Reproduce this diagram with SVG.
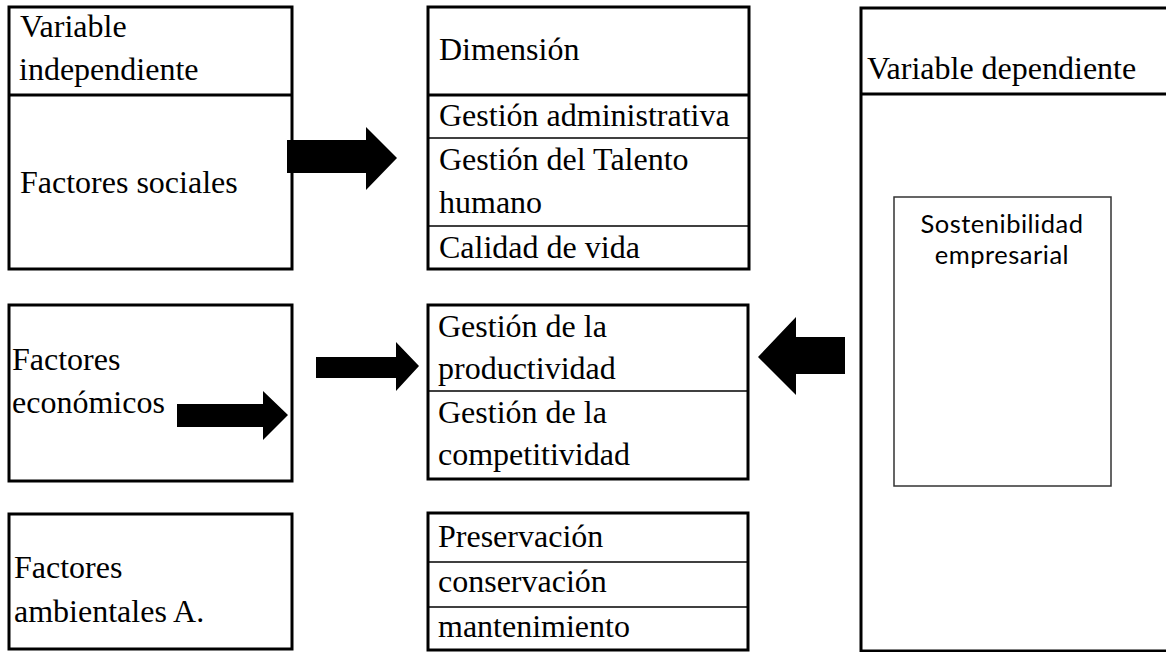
<svg xmlns="http://www.w3.org/2000/svg" width="1166" height="652" viewBox="0 0 1166 652">
<style>
.box{fill:#fff;stroke:#000;stroke-width:3}
.hd{stroke:#000;stroke-width:3}
.th{stroke:#000;stroke-width:1.3}
.t{font-family:"Liberation Serif","Times New Roman",serif;font-size:32px;fill:#000}
.s{font-family:Lato,"Open Sans",sans-serif;font-size:25.5px;letter-spacing:0.5px;fill:#000;text-anchor:middle}
.arr{fill:#000}
</style>
<rect width="1166" height="652" fill="#fff"/>
<g id="var-independiente">
<rect class="box" x="9" y="7" width="283" height="262"/>
<line class="hd" x1="9" y1="95" x2="292" y2="95"/>
<text class="t" x="20" y="37">Variable</text>
<text class="t" x="19" y="80">independiente</text>
<text class="t" x="20" y="193">Factores sociales</text>
</g>
<g id="factores-economicos">
<rect class="box" x="9" y="305" width="283" height="176"/>
<text class="t" x="12" y="370">Factores</text>
<text class="t" x="12" y="413">económicos</text>
</g>
<g id="factores-ambientales">
<rect class="box" x="9" y="514" width="283" height="135"/>
<text class="t" x="14" y="578">Factores</text>
<text class="t" x="14" y="622">ambientales A.</text>
</g>
<g id="dimension-social">
<rect class="box" x="428" y="7" width="321" height="262"/>
<line class="hd" x1="428" y1="95" x2="749" y2="95"/>
<line class="th" x1="428" y1="138" x2="749" y2="138"/>
<line class="th" x1="428" y1="226" x2="749" y2="226"/>
<text class="t" x="439" y="60">Dimensión</text>
<text class="t" x="439" y="126">Gestión administrativa</text>
<text class="t" x="439" y="170">Gestión del Talento</text>
<text class="t" x="439" y="213">humano</text>
<text class="t" x="439" y="258">Calidad de vida</text>
</g>
<g id="dimension-economica">
<rect class="box" x="428" y="305" width="320" height="174"/>
<line class="th" x1="428" y1="391" x2="748" y2="391"/>
<text class="t" x="438" y="337">Gestión de la</text>
<text class="t" x="438" y="379">productividad</text>
<text class="t" x="438" y="423">Gestión de la</text>
<text class="t" x="438" y="465">competitividad</text>
</g>
<g id="dimension-ambiental">
<rect class="box" x="428" y="513" width="320" height="137"/>
<line class="th" x1="428" y1="562" x2="748" y2="562"/>
<line class="th" x1="428" y1="607" x2="748" y2="607"/>
<text class="t" x="438" y="547">Preservación</text>
<text class="t" x="438" y="592">conservación</text>
<text class="t" x="438" y="637">mantenimiento</text>
</g>
<g id="var-dependiente">
<rect class="box" x="861" y="8" width="312" height="643"/>
<line class="hd" x1="861" y1="94" x2="1166" y2="94"/>
<text class="t" x="867" y="79">Variable dependiente</text>
</g>
<g id="sostenibilidad">
<rect x="894" y="197" width="217" height="289" fill="#fff" stroke="#333" stroke-width="1.5"/>
<text class="s" x="1002" y="233">Sostenibilidad</text>
<text class="s" x="1002" y="264">empresarial</text>
</g>
<g id="connectors">
<polygon class="arr" points="287,140 366,140 366,127 397,158 366,190 366,173 287,173"/>
<polygon class="arr" points="177,404 263,404 263,391 288,415 263,440 263,427 177,427"/>
<polygon class="arr" points="316,357 396,357 396,342 419,366 396,391 396,378 316,378"/>
<polygon class="arr" points="845,337 796,337 796,317 758,357 796,395 796,374 845,374"/>
</g>
</svg>
